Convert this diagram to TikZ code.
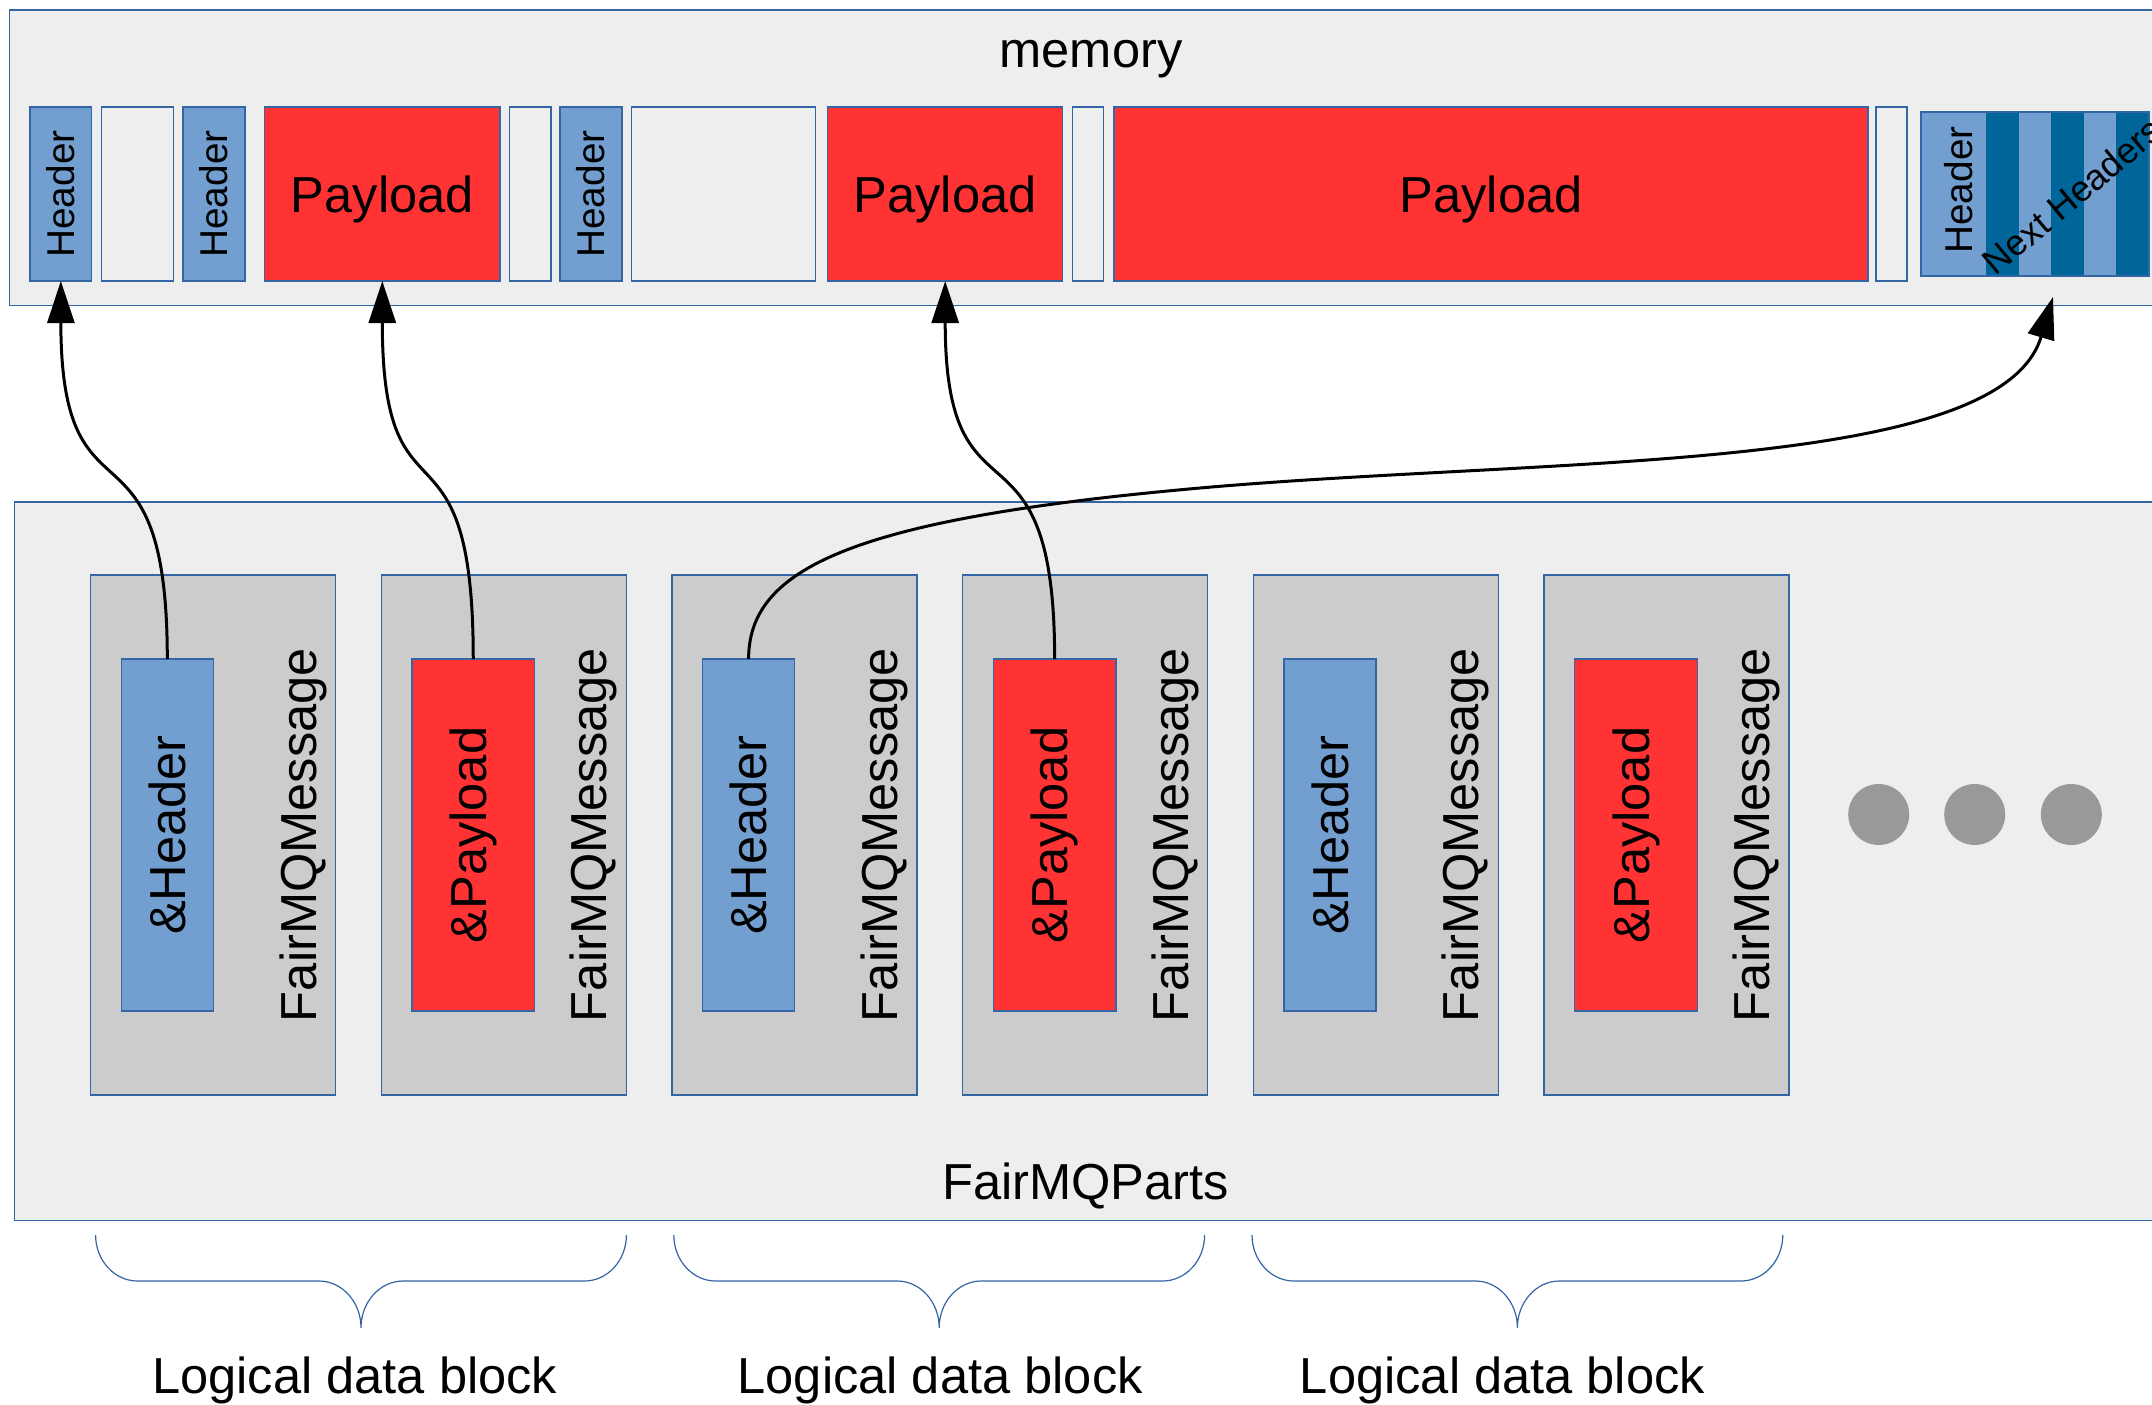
\documentclass[tikz,border=0pt]{standalone}
\usepackage{fontspec}
\setmainfont{Liberation Sans}
\usetikzlibrary{fit,arrows.meta}
\definecolor{bgc}{HTML}{EEEEEE}
\definecolor{bord}{HTML}{3465A4}
\definecolor{lblue}{HTML}{729FCF}
\definecolor{dblue}{HTML}{006699}
\definecolor{pred}{HTML}{FF3333}
\definecolor{msgc}{HTML}{CCCCCC}
\definecolor{dotc}{HTML}{999999}
\newcommand\bigf{\fontsize{25.3}{30}\selectfont}
\newcommand\smf{\fontsize{19.4}{23}\selectfont}
\newcommand\tinyf{\fontsize{18}{21}\selectfont}
\begin{document}
\begin{tikzpicture}[x=0.5pt,y=-0.5pt,
  box/.style={draw=bord,line width=0.6pt,inner sep=0pt,outer sep=0pt},
  area/.style={box,fill=bgc},
  gapbox/.style={box,fill=bgc},
  hdr/.style={box,fill=lblue},
  pay/.style={box,fill=pred},
  msg/.style={box,fill=msgc},
  big/.style={font=\bigf,inner sep=0pt},
  sml/.style={font=\smf,inner sep=0pt},
  arr/.style={draw=black,line width=1.5pt,-{Triangle[length=21pt,width=13.5pt]}},
  brc/.style={draw=bord,line width=0.6pt},
  dot/.style={circle,fill=dotc,minimum size=30.5pt,inner sep=0pt}]
\path[use as bounding box,fill=white] (0,0) rectangle (2152,1404);
\clip (0,0) rectangle (2152,1404);

% memory area
\node[area,fit={(9.8,10)(2175,305.5)}] (mem) {};
\node[big,anchor=base] (memlbl) at (1091,67) {memory};

\node[hdr,fit={(29.9,107)(91.8,281)}] (h1) {};
\node[gapbox,fit={(101.6,107)(173.4,281)}] (e1) {};
\node[hdr,fit={(183,107)(245,281)}] (h2) {};
\node[pay,fit={(264.6,107)(500,281)}] (p1) {};
\node[gapbox,fit={(509.8,107)(551,281)}] (e2) {};
\node[hdr,fit={(560,107)(622,281)}] (h3) {};
\node[gapbox,fit={(631.5,107)(815.7,281)}] (e3) {};
\node[pay,fit={(827.8,107)(1062.6,281)}] (p2) {};
\node[gapbox,fit={(1072.5,107)(1103.4,281)}] (e4) {};
\node[pay,fit={(1114,107)(1868,281)}] (p3) {};
\node[gapbox,fit={(1876,107)(1907,281)}] (e5) {};

\foreach \n in {h1,h2,h3}{\node[sml,rotate=90] (\n t) at (\n.center) {Header};}
\foreach \n in {p1,p2,p3}{\node[big,anchor=base,yshift=-9pt] (\n t) at (\n.center) {Payload};}

% next headers block
\node[hdr,fit={(1921,112)(2149,276)}] (nh) {};
\fill[dblue] (1986,112) rectangle (2019,276);
\fill[dblue] (2051,112) rectangle (2084,276);
\fill[dblue] (2116,112) rectangle (2149,276);
\draw[box] (nh.north west) rectangle (nh.south east);
\node[sml,rotate=90] (nht) at (1959,190) {Header};
\node[font=\tinyf,inner sep=0pt,rotate=40] (nxt) at (2072,196) {Next Headers};
\coordinate (nhin) at (2053,297);

% FairMQParts area
\node[area,fit={(14.3,502)(2175,1220.7)}] (parts) {};
\node[big,anchor=base] (partslbl) at (1085.6,1199) {FairMQParts};

\foreach \i/\L/\k/\w/\t in {1/90.7/hdr/92/\&Header,2/381.3/pay/122.7/\&Payload,3/672/hdr/92/\&Header,4/962.7/pay/122.7/\&Payload,5/1253.3/hdr/92/\&Header,6/1544/pay/122.7/\&Payload}{
  \node[msg,fit={(\L,575)(\L+245,1095)}] (m\i) {};
  \node[\k,fit={(\L+30.6,659)(\L+30.6+\w,1011)}] (i\i) {};
  \node[big,rotate=90] (i\i t) at (i\i.center) {\t};
  \node[big,rotate=90,anchor=base] (m\i t) at (\L+225.3,835) {FairMQMessage};
}

\node[dot] (d1) at (1878.7,814.5) {};
\node[dot] (d2) at (1974.7,814.5) {};
\node[dot] (d3) at (2071.3,814.5) {};

% connectors
\draw[arr] (i1.north) .. controls +(0,-259) and +(0,259) .. (h1.south);
\draw[arr] (i2.north) .. controls +(0,-259) and +(0,259) .. (p1.south);
\draw[arr] (i4.north) .. controls +(0,-259) and +(0,259) .. (p2.south);
\coordinate (w3) at (1200,488);
\draw[arr] (i3.north) .. controls +(0,-90) and (850,519) .. (w3)
  .. controls (1550,457) and (2000,474) .. (nhin);

% braces
\foreach \L/\c in {95.6/1,673.8/2,1252/3}{
  \draw[brc] (\L,1235) .. controls (\L,1260.4) and (\L+18.8,1281) .. (\L+42,1281)
    -- (\L+223.4,1281) .. controls (\L+246.4,1281) and (\L+265.4,1301.9) .. (\L+265.4,1327.7)
    .. controls (\L+265.4,1301.9) and (\L+284.4,1281) .. (\L+307.4,1281)
    -- (\L+488.8,1281) .. controls (\L+512,1281) and (\L+530.8,1260.4) .. (\L+530.8,1235);
}
\node[big,anchor=base] (l1) at (354.7,1393) {Logical data block};
\node[big,anchor=base] (l2) at (940.2,1393) {Logical data block};
\node[big,anchor=base] (l3) at (1502.5,1393) {Logical data block};
\end{tikzpicture}
\end{document}
